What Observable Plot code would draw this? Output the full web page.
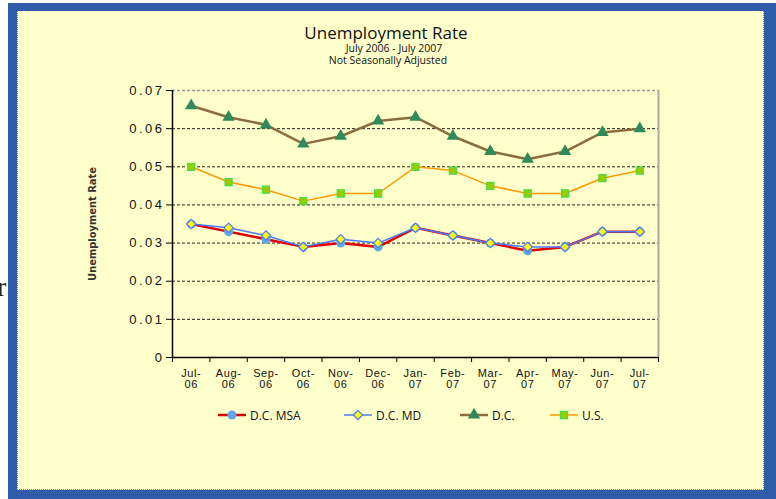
<!DOCTYPE html>
<html><head><meta charset="utf-8">
<script src="https://cdn.jsdelivr.net/npm/d3@7"></script>
<script src="https://cdn.jsdelivr.net/npm/@observablehq/plot@0.6"></script>
<style>
body{margin:0;background:#fff;width:776px;height:499px;overflow:hidden;position:relative;font-family:"Open Sans",sans-serif;color:#111}
#blue{position:absolute;left:8px;top:3px;width:768px;height:496px;background:#2E5CA8}
#cream{position:absolute;left:17px;top:11px;width:745px;height:478px;background:#FFFFCC;border:1px dotted #8a78c0;border-top:none}
.t{position:absolute;left:0;width:776px;text-align:center;white-space:nowrap}
#title{top:24px;font-size:17px;line-height:17px;left:-2px}
#sub1{top:43px;font-size:10.5px;line-height:11px;left:6px}
#sub2{top:55px;font-size:10.5px;line-height:11px;left:0px}
#chart{position:absolute;left:0;top:78px}
#legend{position:absolute;left:0;top:407px;width:776px;height:16px;font-size:12px}
.item{position:absolute;top:0;height:16px;display:flex;align-items:center;gap:4px;white-space:nowrap}
#stray{position:absolute;left:-3px;top:272px;font-family:"Liberation Serif",serif;font-size:28px;line-height:30px;color:#222}
</style></head>
<body>
<div id="stray">r</div>
<div id="blue"></div>
<div id="cream"></div>
<div id="title" class="t">Unemployment Rate</div>
<div id="sub1" class="t">July 2006 - July 2007</div>
<div id="sub2" class="t">Not Seasonally Adjusted</div>
<div id="chart"></div>
<div id="legend"></div>
<script>
const months = ["Jul-06","Aug-06","Sep-06","Oct-06","Nov-06","Dec-06","Jan-07","Feb-07","Mar-07","Apr-07","May-07","Jun-07","Jul-07"];
const monthLabels = ["Jul-\n06","Aug-\n06","Sep-\n06","Oct-\n06","Nov-\n06","Dec-\n06","Jan-\n07","Feb-\n07","Mar-\n07","Apr-\n07","May-\n07","Jun-\n07","Jul-\n07"];
const dcMsa = [0.035,0.033,0.031,0.029,0.030,0.029,0.034,0.032,0.030,0.028,0.029,0.033,0.033];
const dcMd  = [0.035,0.034,0.032,0.029,0.031,0.030,0.034,0.032,0.030,0.029,0.029,0.033,0.033];
const dc    = [0.066,0.063,0.061,0.056,0.058,0.062,0.063,0.058,0.054,0.052,0.054,0.059,0.060];
const us    = [0.050,0.046,0.044,0.041,0.043,0.043,0.050,0.049,0.045,0.043,0.043,0.047,0.049];
const yTicks = [0,0.01,0.02,0.03,0.04,0.05,0.06,0.07];
const seriesNames = ["D.C. MSA","D.C. MD","D.C.","U.S."];

const styles = [
  {name: seriesNames[0], values: dcMsa, line: "#E00000", lw: 2.5, symbol: "circle", fill: "#5FA8F0", stroke: "none", r: 4.5},
  {name: seriesNames[1], values: dcMd,  line: "#4A7BFF", lw: 1.5, symbol: "diamond2", fill: "#FFFF00", stroke: "#4A7BFF", r: 4.2},
  {name: seriesNames[2], values: dc,    line: "#8C6D3F", lw: 2.5, symbol: "triangle", fill: "#2E8B57", stroke: "none", r: 4.6},
  {name: seriesNames[3], values: us,    line: "#FF9900", lw: 1.5, symbol: "square", fill: "#99CC00", stroke: "#44DD44", r: 4}
];
const legendLefts = [218, 344, 460, 550];
const rows = s => months.map((m, i) => ({i, month: m, v: s.values[i]}));
const idx = d3.range(months.length);
const bounds = d3.range(months.length + 1).map(i => i - 0.5);
const lo = bounds[0], hi = bounds[bounds.length - 1];
const yMax = yTicks[yTicks.length - 1];

const seriesMarks = styles.flatMap(s => [
  Plot.line(rows(s), {x: "i", y: "v", stroke: s.line, strokeWidth: s.lw}),
  Plot.dot(rows(s), {x: "i", y: "v", symbol: () => s.symbol, r: s.r, fill: s.fill, stroke: s.stroke, strokeWidth: 1.2})
]);

const chart = Plot.plot({
  width: 776, height: 320,
  marginLeft: 172, marginRight: 118, marginTop: 12, marginBottom: 41,
  style: {fontFamily: "Liberation Sans, Arial, sans-serif", fontSize: "13px", color: "#111", background: "transparent", overflow: "visible"},
  x: {domain: [lo, hi], axis: null, label: null},
  y: {domain: [0, yMax], axis: null, label: null},
  symbol: {type: "identity"},
  marks: [
    Plot.ruleY(yTicks.filter(t => t > 0 && t < yMax), {stroke: "#222", strokeDasharray: "3,2", strokeWidth: 1}),
    Plot.ruleY([yMax], {stroke: "#999", strokeDasharray: "3,2", strokeWidth: 1.5}),
    Plot.ruleX([hi], {stroke: "#aaa", strokeWidth: 2}),
    Plot.axisY({ticks: yTicks, tickSize: 6, tickPadding: 2, stroke: "#000", fill: "#111", label: null,
      tickFormat: d => d === 0 ? "0" : d3.format(".2f")(d)}),
    Plot.axisX({ticks: idx, tickSize: 0, tickPadding: 11, fontSize: 11, lineHeight: 1.05, fill: "#111", label: null,
      tickFormat: i => monthLabels[i]}),
    Plot.axisX({ticks: bounds, tickSize: 5, stroke: "#000", label: null, tickFormat: () => ""}),
    Plot.ruleX([lo], {stroke: "#000", strokeWidth: 1.5}),
    Plot.ruleY([0], {stroke: "#000", strokeWidth: 1.5}),
    ...seriesMarks,
    Plot.text(["Unemployment Rate"], {frameAnchor: "left", dx: -80, rotate: -90, textAnchor: "middle", fontSize: 11, fontWeight: "bold",
      fontFamily: "DejaVu Sans Condensed, DejaVu Sans, sans-serif", fill: "#333", text: d => d})
  ]
});
d3.select(chart).selectAll('[aria-label="y-axis tick label"] text').attr("letter-spacing", "2.5px");
d3.select(chart).selectAll('[aria-label="x-axis tick label"] text').attr("letter-spacing", "0.6px");
document.getElementById("chart").appendChild(chart);

// legend
const symbolTypes = {circle: d3.symbolCircle, diamond2: d3.symbolDiamond2, triangle: d3.symbolTriangle, square: d3.symbolSquare};
const legend = d3.select("#legend");
styles.forEach((s, k) => {
  const it = legend.append("div").attr("class", "item").style("left", legendLefts[k] + "px");
  const sv = it.append("svg").attr("width", 28).attr("height", 14);
  sv.append("line").attr("x1", 0).attr("x2", 28).attr("y1", 7).attr("y2", 7).attr("stroke", s.line).attr("stroke-width", s.lw);
  sv.append("path").attr("transform", "translate(14,7)")
    .attr("d", d3.symbol(symbolTypes[s.symbol], Math.PI * s.r * s.r)())
    .attr("fill", s.fill).attr("stroke", s.stroke).attr("stroke-width", 1.2);
  it.append("span").text(s.name);
});
</script>
</body></html>
